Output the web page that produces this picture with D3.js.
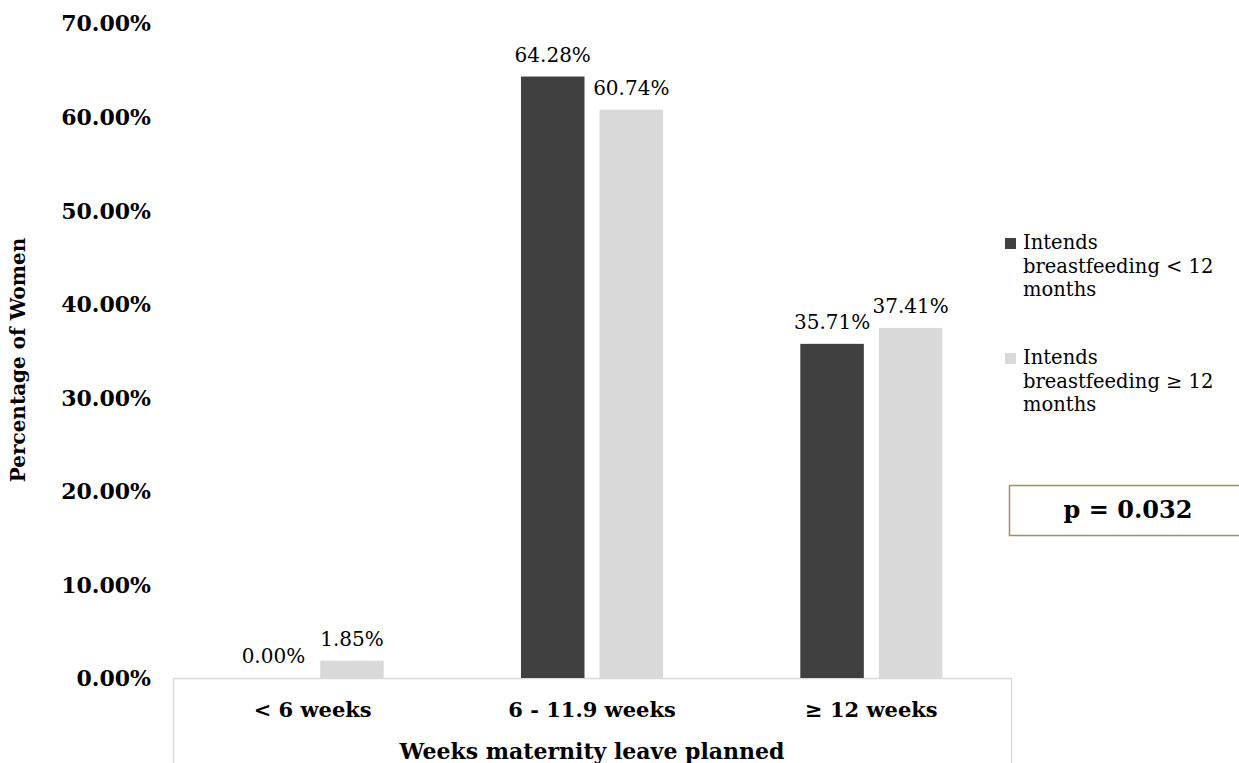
<!DOCTYPE html>
<html>
<head>
<meta charset="utf-8">
<script src="https://cdn.jsdelivr.net/npm/d3@7"></script>
<style>
  html, body { margin: 0; padding: 0; background: #fff; }
  svg { display: block; font-family: "DejaVu Serif", serif; }
</style>
</head>
<body>
<svg id="chart" width="1239" height="763"></svg>
<script>
// Categories along the x axis (planned maternity leave)
const categories = ["< 6 weeks", "6 - 11.9 weeks", "\u2265 12 weeks"];
// Series names and their percentages per category
const seriesNames = [
  "Intends breastfeeding < 12 months",
  "Intends breastfeeding \u2265 12 months"
];
const shortLegend = [
  ["Intends", "breastfeeding < 12", "months"],
  ["Intends", "breastfeeding \u2265 12", "months"]
];
const under12 = [0.00, 64.28, 35.71];
const over12 = [1.85, 60.74, 37.41];
const yTicks = [0, 10, 20, 30, 40, 50, 60, 70];
const pValueLabel = "p = 0.032";
const xTitle = "Weeks maternity leave planned";
const yTitle = "Percentage of Women";

const colors = ["#404040", "#d9d9d9"];
const seriesValues = [under12, over12];

const svg = d3.select("#chart");

const plotLeft = 173, plotRight = 1011, plotBase = 678, plotTop = 23;

const x0 = d3.scaleBand().domain(categories).range([plotLeft, plotRight]).padding(0);
const x1 = d3.scaleBand().domain([0, 1]).range([0, x0.bandwidth()])
  .paddingInner(0.191).paddingOuter(0.874);
const y = d3.scaleLinear().domain([0, 70]).range([plotBase, plotTop]);

// y axis: labels only
const yAxis = svg.append("g")
  .attr("transform", `translate(${plotLeft},0)`)
  .call(d3.axisLeft(y).tickValues(yTicks).tickSize(0).tickPadding(22)
    .tickFormat(d => d3.format(".2f")(d) + "%"));
yAxis.select(".domain").remove();
yAxis.selectAll("text")
  .attr("font-family", "DejaVu Serif, serif")
  .attr("font-size", 22)
  .attr("font-weight", "bold")
  .attr("fill", "#000")
  .attr("dy", "0.36em");

// x axis: open box below the baseline with category labels
const xAxis = svg.append("g")
  .attr("transform", `translate(0,${plotBase})`)
  .call(d3.axisBottom(x0).tickSizeInner(0).tickSizeOuter(120).tickPadding(24));
xAxis.select(".domain").attr("stroke", "#d9d9d9").attr("stroke-width", 1.3);
xAxis.selectAll("text")
  .attr("font-family", "DejaVu Serif, serif")
  .attr("font-size", 21)
  .attr("font-weight", "bold")
  .attr("fill", "#000");

// bars
const groups = svg.append("g").selectAll("g")
  .data(categories)
  .join("g")
  .attr("transform", d => `translate(${x0(d)},0)`);

groups.selectAll("rect")
  .data((c, i) => seriesValues.map((vals, s) => ({ s, v: vals[i] })))
  .join("rect")
  .attr("x", d => x1(d.s))
  .attr("width", x1.bandwidth())
  .attr("y", d => y(d.v))
  .attr("height", d => plotBase - y(d.v))
  .attr("fill", d => colors[d.s]);

// value labels
groups.selectAll("text.val")
  .data((c, i) => seriesValues.map((vals, s) => ({ s, v: vals[i] })))
  .join("text")
  .attr("class", "val")
  .attr("x", d => x1(d.s) + x1.bandwidth() / 2)
  .attr("y", d => y(d.v) - 15)
  .attr("text-anchor", "middle")
  .attr("font-size", 20)
  .attr("fill", "#000")
  .text(d => d3.format(".2f")(d.v) + "%");

// axis titles
svg.append("text")
  .attr("x", (plotLeft + plotRight) / 2)
  .attr("y", 759)
  .attr("text-anchor", "middle")
  .attr("font-size", 22)
  .attr("font-weight", "bold")
  .text(xTitle);

svg.append("text")
  .attr("transform", "translate(25,360) rotate(-90)")
  .attr("text-anchor", "middle")
  .attr("font-size", 20)
  .attr("font-weight", "bold")
  .text(yTitle);

// legend
const legend = svg.append("g").selectAll("g")
  .data(seriesNames)
  .join("g")
  .attr("transform", (d, i) => `translate(1005,${[249, 364][i]})`);
legend.append("rect")
  .attr("x", 0).attr("y", -11)
  .attr("width", 11).attr("height", 11)
  .attr("fill", (d, i) => colors[i]);
legend.append("text")
  .attr("font-size", 19.5)
  .attr("fill", "#000")
  .selectAll("tspan")
  .data((d, i) => shortLegend[i])
  .join("tspan")
  .attr("x", 18)
  .attr("y", (d, j) => j * 23.5)
  .text(d => d);

// p-value box
svg.append("rect")
  .attr("x", 1009.5).attr("y", 485.5)
  .attr("width", 260).attr("height", 50)
  .attr("fill", "#fff")
  .attr("stroke", "#9c9265")
  .attr("stroke-width", 1.5);
svg.append("text")
  .attr("x", 1128).attr("y", 518)
  .attr("text-anchor", "middle")
  .attr("font-size", 24)
  .attr("font-weight", "bold")
  .text(pValueLabel);
</script>
</body>
</html>
